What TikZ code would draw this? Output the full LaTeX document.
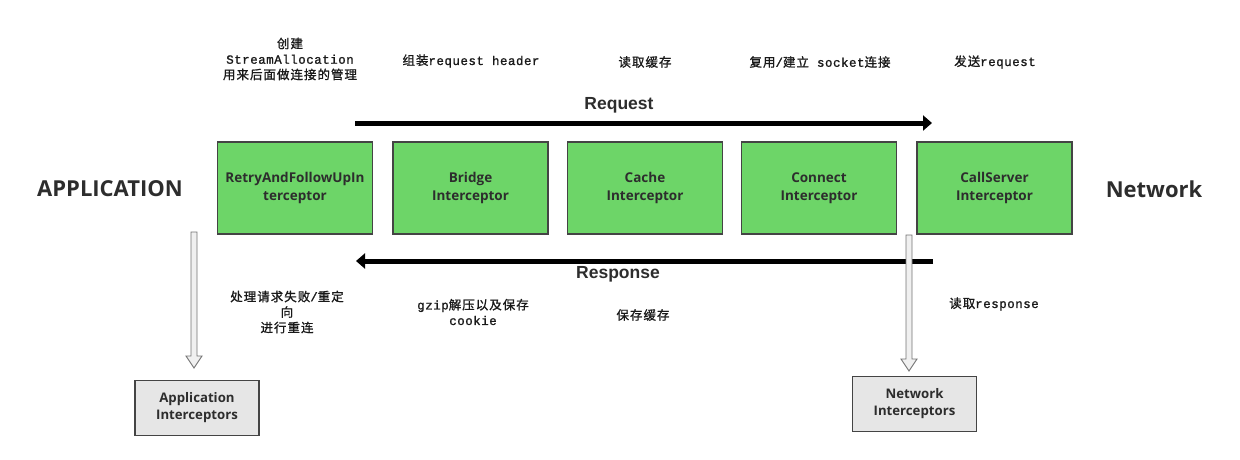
\documentclass[tikz,border=0pt]{standalone}
\usepackage{fontspec}
\setmainfont{Open Sans}
\newfontfamily\cjk[LetterSpace=8,FakeBold=1.2]{Noto Sans CJK SC}
\newfontfamily\mono[FakeBold=1.2,LetterSpace=4]{Liberation Mono}
\newfontfamily\arialb{Liberation Sans}
\usetikzlibrary{arrows.meta,calc}
\definecolor{boxgreen}{RGB}{109,213,104}
\definecolor{boxgray}{RGB}{230,230,230}
\definecolor{edge}{RGB}{68,68,68}
\definecolor{txt}{RGB}{45,45,45}
\tikzset{
  ibox/.style={draw=edge, line width=1.2pt, fill=boxgreen, minimum width=155pt, minimum height=92pt, inner sep=0pt, align=center, text=txt, font=\fontsize{13.5}{17.5}\selectfont\bfseries},
  gbox/.style={draw=edge, line width=1.2pt, fill=boxgray, minimum width=124pt, minimum height=55pt, inner sep=0pt, align=center, text=txt, font=\fontsize{13.2}{17}\selectfont\bfseries},
  side/.style={text=txt, font=\fontsize{22}{26}\selectfont\bfseries},
  flowlbl/.style={text=txt, font=\arialb\fontsize{17.5}{20}\selectfont\bfseries},
  note/.style={text=black!90, align=center, font=\fontsize{12.5}{15.5}\selectfont},
  flow/.style={line width=5pt, -{Triangle[width=15pt,length=9pt]}},
  hollow/.style={draw=black!55, line width=0.9pt, fill=black!6}
}
\newcommand{\mtx}[1]{{\mono #1}}
\begin{document}
\begin{tikzpicture}[x=1pt,y=-1pt]
\useasboundingbox (0,0) rectangle (1240,459);
% interceptor boxes
\node[ibox] (retry) at (295,188) {RetryAndFollowUpIn\\terceptor};
\node[ibox] (bridge) at (470.5,188) {Bridge\\Interceptor};
\node[ibox] (cache) at (645,188) {Cache\\Interceptor};
\node[ibox] (connect) at (819,188) {Connect\\Interceptor};
\node[ibox] (callserver) at (994.5,188) {CallServer\\Interceptor};
% side labels
\node[side] (app) at (110,189) {APPLICATION};
\node[side] (net) at (1154,189) {Network};
% request / response arrows
\coordinate (reqs) at (355,123);
\coordinate (reqe) at (932,123);
\draw[flow] (reqs) -- (reqe);
\node[flowlbl] (req) at (619,105) {Request};
\coordinate (ress) at (933,261);
\coordinate (rese) at (356,261);
\draw[flow] (ress) -- (rese);
\node[flowlbl] (res) at (618,274) {Response};
% top notes
\node[note] (n1) at (290,59) {{\cjk 创建}\\\mtx{StreamAllocation}\\{\cjk 用来后面做连接的管理}};
\node[note] (n2) at (471,61) {{\cjk 组装}\mtx{request header}};
\node[note] (n3) at (645,62) {{\cjk 读取缓存}};
\node[note] (n4) at (820,62) {{\cjk 复用}\mtx{/}{\cjk 建立}\mtx{\ socket}{\cjk 连接}};
\node[note] (n5) at (995,62) {{\cjk 发送}\mtx{request}};
% bottom notes
\node[note] (b1) at (287,312) {{\cjk 处理请求失败}\mtx{/}{\cjk 重定}\\{\cjk 向}\\{\cjk 进行重连}};
\node[note] (b2) at (473,312) {\mtx{gzip}{\cjk 解压以及保存}\\\mtx{cookie}};
\node[note] (b3) at (643,315) {{\cjk 保存缓存}};
\node[note] (b4) at (994,304) {{\cjk 读取}\mtx{response}};
% gray boxes
\node[gbox] (appi) at (197,408) {Application\\Interceptors};
\node[gbox] (neti) at (914.5,404) {Network\\Interceptors};
% hollow arrows
\coordinate (h1s) at (194,232);
\coordinate (h1e) at (194,368);
\coordinate (h2s) at (909,235);
\coordinate (h2e) at (909,371);
\foreach \s/\e in {h1s/h1e,h2s/h2e}{
  \draw[hollow] ($(\s)+(-3,0)$) -- ($(\e)+(-3,-12)$) -- ($(\e)+(-8,-12)$) -- (\e) -- ($(\e)+(8,-12)$) -- ($(\e)+(3,-12)$) -- ($(\s)+(3,0)$) -- cycle;
}
\end{tikzpicture}
\end{document}
